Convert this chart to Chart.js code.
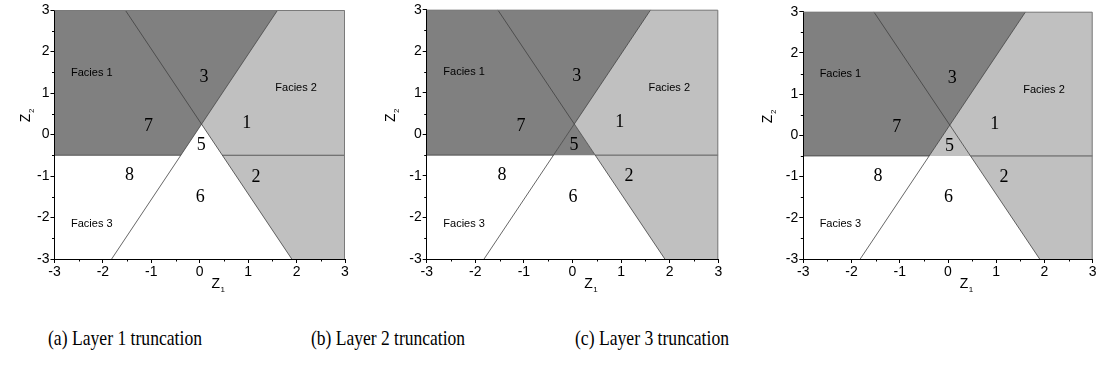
<!DOCTYPE html>
<html><head><meta charset="utf-8">
<script src="https://cdn.jsdelivr.net/npm/chart.js@4.4.1/dist/chart.umd.min.js"></script>
<style>
html,body{margin:0;padding:0;background:#fff;}
#page{position:relative;width:1102px;height:372px;overflow:hidden;background:#fff;}
#page canvas{position:absolute;top:0;}
.cap{position:absolute;top:325px;font-family:'Liberation Serif','DejaVu Serif',serif;font-size:22px;line-height:26px;color:#000;white-space:nowrap;transform-origin:0 50%;}
</style></head><body>
<div id="page">
<canvas id="c0" width="365" height="300" style="left:0px"></canvas>
<canvas id="c1" width="365" height="300" style="left:370px"></canvas>
<canvas id="c2" width="367" height="300" style="left:735px"></canvas>
<div class="cap" id="cap0" style="left:48px"></div>
<div class="cap" id="cap1" style="left:311px"></div>
<div class="cap" id="cap2" style="left:575px"></div>
</div>
<script>
// ---------------- data ----------------
const tickValues = [-3, -2, -1, 0, 1, 2, 3];
const axisMin = -3, axisMax = 3;
// descending boundary: z1 where it meets z2 = 3 and z2 = -3
const descZ1 = [-1.54, 1.90];
const descZ2 = [3, -3];
// ascending boundary
const ascZ1 = [-1.82, 1.61];
const ascZ2 = [-3, 3];
// horizontal truncation threshold
const thresholdZ2 = -0.5;
// region numbers and where they are written
const regionNumbers = ['1', '2', '3', '5', '6', '7', '8'];
const regionNumZ1 = [0.97, 1.16, 0.09, 0.03, 0.01, -1.06, -1.45];
const regionNumZ2 = [0.28, -1.02, 1.39, -0.27, -1.51, 0.20, -0.99];
// facies names
const faciesNames = ['Facies 1', 'Facies 2', 'Facies 3'];
const faciesZ1 = [-2.23, 1.99, -2.23];
const faciesZ2 = [1.49, 1.11, -2.16];
// facies assigned to the central region 5 for each layer
const region5Facies = [3, 1, 2];
const captions = ['(a) Layer 1 truncation', '(b) Layer 2 truncation', '(c) Layer 3 truncation'];

// ---------------- styles / layout ----------------
const faciesColors = {1: '#808080', 2: '#c0c0c0', 3: '#ffffff'};
const lineColor = '#404040';
const captionWidth = 154;
const panelLayout = [
  {id: 'c0', width: 365, plotLeft: 54.5, plotRight: 345, plotTop: 10, xAxisH: 41, yTitleGap: 25},
  {id: 'c1', width: 365, plotLeft: 56.7, plotRight: 348.3, plotTop: 9.7, xAxisH: 41, yTitleGap: 32},
  {id: 'c2', width: 367, plotLeft: 68.3, plotRight: 357.7, plotTop: 11.7, xAxisH: 41, yTitleGap: 31}
];

// ---------------- geometry helpers ----------------
function lineFrom(xs, ys) {
  const m = (ys[1] - ys[0]) / (xs[1] - xs[0]);
  return {m: m, b: ys[0] - m * xs[0]};
}
function xAtY(l, y) { return (y - l.b) / l.m; }
function crossing(l1, l2) {
  const x = (l2.b - l1.b) / (l1.m - l2.m);
  return {x: x, y: l1.m * x + l1.b};
}
const dL = lineFrom(descZ1, descZ2);
const aL = lineFrom(ascZ1, ascZ2);
const P = crossing(dL, aL);
const A = {x: xAtY(aL, thresholdZ2), y: thresholdZ2};
const B = {x: xAtY(dL, thresholdZ2), y: thresholdZ2};
const ascTop = {x: xAtY(aL, axisMax), y: axisMax};
const descBottom = {x: xAtY(dL, axisMin), y: axisMin};

const polyFacies1 = [{x: axisMin, y: axisMax}, ascTop, A, {x: axisMin, y: thresholdZ2}];
const polyFacies2 = [ascTop, {x: axisMax, y: axisMax}, {x: axisMax, y: axisMin}, descBottom, P];
const polyRegion5 = [P, B, A];

function polyDs(pts, color) {
  return {data: pts, showLine: true, fill: 'shape', backgroundColor: color, order: 5,
          borderColor: 'rgba(0,0,0,0)', borderWidth: 0, pointRadius: 0, tension: 0};
}
function lineDs(pts) {
  return {data: pts, showLine: true, fill: false, borderColor: lineColor, order: 1,
          borderWidth: 0.8, pointRadius: 0, tension: 0};
}

const decorPlugin = {
  id: 'decor',
  afterDatasetsDraw(chart) {
    const ctx = chart.ctx, xs = chart.scales.x, ys = chart.scales.y;
    ctx.save();
    ctx.fillStyle = '#000';
    ctx.textAlign = 'center';
    ctx.textBaseline = 'middle';
    ctx.font = '18px "Liberation Serif"';
    regionNumbers.forEach((t, i) => {
      ctx.fillText(t, xs.getPixelForValue(regionNumZ1[i]), ys.getPixelForValue(regionNumZ2[i]));
    });
    ctx.font = '11px "Liberation Sans"';
    faciesNames.forEach((t, i) => {
      ctx.fillText(t, xs.getPixelForValue(faciesZ1[i]), ys.getPixelForValue(faciesZ2[i]));
    });
    ctx.restore();
  },
  afterDraw(chart) {
    const ctx = chart.ctx, xs = chart.scales.x, ys = chart.scales.y;
    const a = chart.chartArea;
    const L = chart.options.plugins.decor;
    ctx.save();
    // right/top frame
    ctx.strokeStyle = '#7a7a7a';
    ctx.lineWidth = 1;
    ctx.beginPath();
    ctx.moveTo(a.left, a.top + 0.5); ctx.lineTo(a.right - 0.5, a.top + 0.5); ctx.lineTo(a.right - 0.5, a.bottom);
    ctx.stroke();
    // minor ticks
    ctx.strokeStyle = '#000';
    ctx.beginPath();
    for (let k = 0; k < tickValues.length - 1; k++) {
      const v = (tickValues[k] + tickValues[k + 1]) / 2;
      const px = Math.round(xs.getPixelForValue(v)) + 0.5;
      ctx.moveTo(px, a.bottom); ctx.lineTo(px, a.bottom + 2.5);
      const py = Math.round(ys.getPixelForValue(v)) + 0.5;
      ctx.moveTo(a.left, py); ctx.lineTo(a.left - 2.5, py);
    }
    ctx.stroke();
    // axis titles Z1, Z2
    ctx.fillStyle = '#000';
    ctx.textBaseline = 'alphabetic';
    ctx.textAlign = 'left';
    ctx.font = '14px "Liberation Sans"';
    const zw = ctx.measureText('Z').width;
    const tx = xs.getPixelForValue(0.33) - zw / 2;
    const ty = a.bottom + 29;
    ctx.fillText('Z', tx, ty);
    ctx.font = '8px "Liberation Sans"';
    ctx.fillText('1', tx + zw + 0.5, ty + 4);
    // y title
    ctx.translate(a.left - L.yTitleGap, ys.getPixelForValue(0.4));
    ctx.rotate(-Math.PI / 2);
    ctx.font = '14px "Liberation Sans"';
    ctx.fillText('Z', -zw / 2, 0);
    ctx.font = '8px "Liberation Sans"';
    ctx.fillText('2', zw / 2 + 0.5, 4);
    ctx.restore();
  }
};

function axisOpts(fitFn) {
  return {
    type: 'linear', min: axisMin, max: axisMax,
    afterBuildTicks: s => { s.ticks = tickValues.map(v => ({value: v})); },
    afterFit: fitFn,
    grid: {display: true, drawOnChartArea: false, drawTicks: true, tickLength: 4, color: '#000', tickColor: '#000', lineWidth: 1},
    border: {display: true, color: '#000', width: 1, z: 1},
    ticks: {font: {family: 'Liberation Sans', size: 14}, color: '#000', padding: 1, maxRotation: 0, autoSkip: false}
  };
}

panelLayout.forEach((L, i) => {
  const cap = document.getElementById('cap' + i);
  cap.textContent = captions[i];
  const w = cap.getBoundingClientRect().width;
  cap.style.transform = 'scaleX(' + (captionWidth / w) + ')';
  const datasets = [
    polyDs(polyFacies1, faciesColors[1]),
    polyDs(polyFacies2, faciesColors[2]),
    polyDs(polyRegion5, faciesColors[region5Facies[i]]),
    lineDs([{x: descZ1[0], y: descZ2[0]}, {x: descZ1[1], y: descZ2[1]}]),
    lineDs([{x: ascZ1[0], y: ascZ2[0]}, {x: ascZ1[1], y: ascZ2[1]}]),
    lineDs([{x: axisMin, y: thresholdZ2}, A]),
    lineDs([B, {x: axisMax, y: thresholdZ2}])
  ];
  new Chart(document.getElementById(L.id), {
    type: 'scatter',
    data: {datasets: datasets},
    options: {
      responsive: false, animation: false, events: [],
      layout: {padding: {left: 0, right: L.width - L.plotRight, top: L.plotTop, bottom: 0}},
      plugins: {legend: {display: false}, tooltip: {enabled: false}, decor: L,
                filler: {drawTime: 'beforeDatasetsDraw'}},
      scales: {
        x: axisOpts(s => { s.height = L.xAxisH; }),
        y: axisOpts(s => { s.width = L.plotLeft; })
      }
    },
    plugins: [decorPlugin]
  });
});
</script>
</body></html>
